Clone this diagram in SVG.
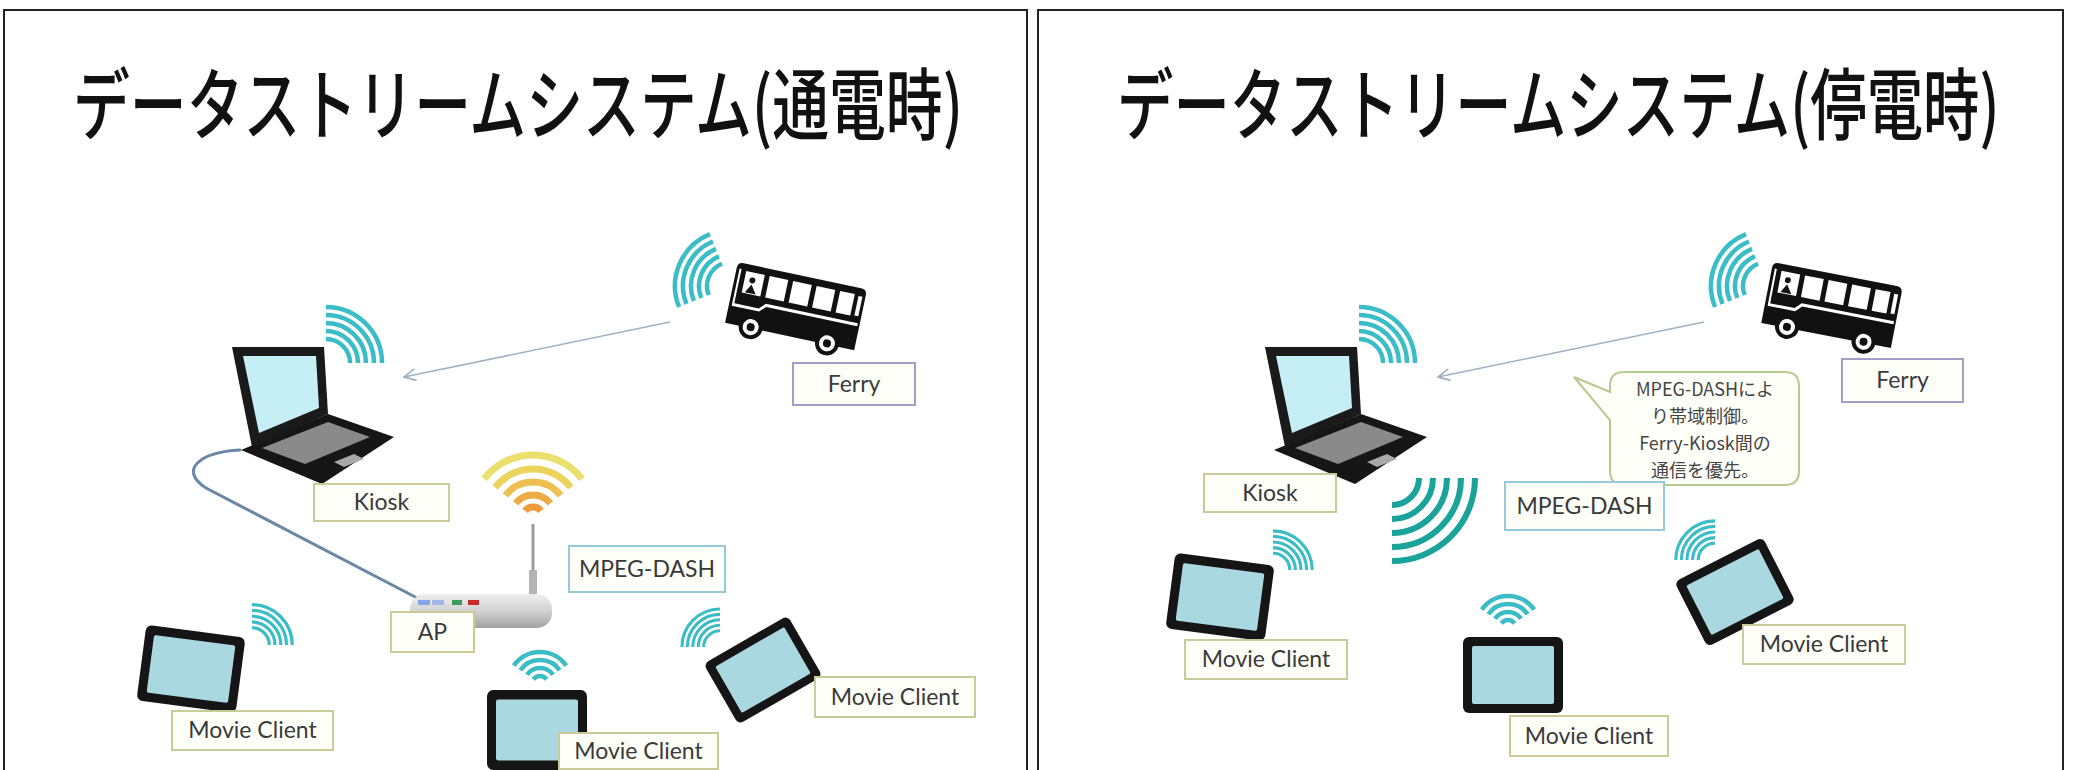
<svg xmlns="http://www.w3.org/2000/svg" xmlns:xlink="http://www.w3.org/1999/xlink" width="2097" height="770" viewBox="0 0 2097 770">
  <style>
    .panel { fill: #ffffff; stroke: #222222; stroke-width: 2; }
    .title { font-family: "Noto Sans CJK JP", "Noto Sans CJK SC", sans-serif; font-size: 78px; font-weight: 500; fill: #111111; }
    .box { fill: #fffffa; stroke: #c9cc99; stroke-width: 2; }
    .box-ferry { stroke: #a59dc4; }
    .box-dash { stroke: #98c9d8; }
    .lbl { font-family: Lato, "Open Sans", "Liberation Sans", sans-serif; font-size: 23px; fill: #3a3a3a; text-anchor: middle; }
    .note { font-family: "Noto Sans CJK JP", "Noto Sans CJK SC", sans-serif; font-size: 18px; fill: #454545; text-anchor: middle; }
    .wifi path { fill: none; stroke: #3bbdc7; stroke-width: 4.5; }
    .link { fill: none; stroke: #9fb2c4; stroke-width: 1.6; }
    .cable { fill: none; stroke: #6b86a6; stroke-width: 3; stroke-linecap: round; }
  </style>
  <defs>
    <marker id="arrowOpen" viewBox="0 0 12 12" refX="11" refY="6" markerWidth="14" markerHeight="14" markerUnits="userSpaceOnUse" orient="auto">
      <path d="M1,1 L11,6 L1,11" fill="none" stroke="#9fb2c4" stroke-width="1.5"/>
    </marker>
    <linearGradient id="routerBody" x1="0" y1="0" x2="0" y2="1">
      <stop offset="0" stop-color="#efefef"/>
      <stop offset="0.5" stop-color="#d2d2d2"/>
      <stop offset="1" stop-color="#a2a2a2"/>
    </linearGradient>
    <!-- quarter-circle radio waves, centre at origin, from up to right -->
    <g id="waveQuarter" class="wifi">
      <path d="M0,-24 A24,24 0 0 1 24,0"/>
      <path d="M0,-32 A32,32 0 0 1 32,0"/>
      <path d="M0,-40 A40,40 0 0 1 40,0"/>
      <path d="M0,-48 A48,48 0 0 1 48,0"/>
      <path d="M0,-56 A56,56 0 0 1 56,0"/>
    </g>
    <!-- upward fan of radio waves -->
    <g id="waveFan" class="wifi">
      <path d="M-6.55,-4.59 A8,8 0 0 1 6.55,-4.59"/>
      <path d="M-13.1,-9.18 A16,16 0 0 1 13.1,-9.18"/>
      <path d="M-19.66,-13.77 A24,24 0 0 1 19.66,-13.77"/>
      <path d="M-26.2,-18.35 A32,32 0 0 1 26.2,-18.35"/>
    </g>
    <!-- tablet: black frame with light blue screen, centred on origin -->
    <g id="tablet">
      <rect x="-50" y="-38" width="100" height="76" rx="6" fill="#151515"/>
      <rect x="-41" y="-29" width="82" height="58" rx="2" fill="#a9d8e0"/>
    </g>
    <!-- laptop, origin at top-left of lid -->
    <g id="laptop">
      <polygon points="9,103 96,67 162,90 90,137" fill="#161616"/>
      <polygon points="30,101 96,75 138,90 73,117" fill="#8a8a8a"/>
      <polygon points="102,115 122,107 132,112 112,120" fill="#a8a8a8"/>
      <polygon points="0,0 92,0 96,67 20,100" fill="#1a1a1a"/>
      <polygon points="11,9 84,9 87,61 27,86" fill="#c6eef5"/>
    </g>
    <!-- bus icon, 132 x 72, front on the left -->
    <g id="bus">
      <path d="M6,0 H126 Q132,0 132,6 V62 H0 V6 Q0,0 6,0 Z" fill="#111111"/>
      <rect x="3" y="6" width="2" height="36" fill="#ffffff"/>
      <rect x="10" y="7" width="19" height="22" fill="#ffffff"/>
      <circle cx="18" cy="15" r="3" fill="#111111"/>
      <path d="M13,28 L18,19 L24,28 Z" fill="#111111"/>
      <rect x="34" y="7" width="19" height="22" fill="#ffffff"/>
      <rect x="58" y="7" width="19" height="22" fill="#ffffff"/>
      <rect x="82" y="7" width="19" height="22" fill="#ffffff"/>
      <rect x="106" y="7" width="15" height="22" fill="#ffffff"/>
      <rect x="125" y="8" width="4" height="20" fill="#ffffff"/>
      <path d="M3,41 H30 L36,35 H130 V38 H37 L31,44 H3 Z" fill="#ffffff"/>
      <circle cx="26" cy="61" r="12" fill="#111111"/>
      <circle cx="26" cy="61" r="8" fill="#ffffff"/>
      <circle cx="26" cy="61" r="4" fill="#111111"/>
      <circle cx="104" cy="61" r="12" fill="#111111"/>
      <circle cx="104" cy="61" r="8" fill="#ffffff"/>
      <circle cx="104" cy="61" r="4" fill="#111111"/>
    </g>
  </defs>

  <rect width="2097" height="770" fill="#ffffff"/>

  <!-- ===================== powered ===================== -->
  <g id="panel-powered">
    <rect class="panel" x="4" y="10" width="1023" height="780"/>
    <text class="title" transform="translate(73,134) scale(0.729,1)" x="0" y="0">データストリームシステム(通電時)</text>

    <g id="powered-connectors">
      <path class="cable" d="M240,450 C200,452 178,470 206,488 L421,600"/>
      <line class="link" x1="670" y1="322" x2="404" y2="377" marker-end="url(#arrowOpen)"/>
    </g>

    <g id="powered-ferry">
      <use href="#waveQuarter" transform="translate(731,286) rotate(-112)"/>
      <use href="#bus" transform="translate(795,311) rotate(12) translate(-66,-36)"/>
      <rect class="box box-ferry" x="793" y="363" width="122" height="42"/>
      <text class="lbl" x="854" y="392">Ferry</text>
    </g>

    <g id="powered-kiosk">
      <use href="#waveQuarter" transform="translate(326,363)"/>
      <use href="#laptop" transform="translate(232,347)"/>
      <rect class="box" x="314" y="484" width="135" height="37"/>
      <text class="lbl" x="381.5" y="510">Kiosk</text>
    </g>

    <g id="powered-ap">
      <g fill="none" stroke-width="7">
        <path d="M484.14,478.8 A62,62 0 0 1 581.86,478.8" stroke="#ebe06e"/>
        <path d="M495.18,487.43 A48,48 0 0 1 570.82,487.43" stroke="#ebd35e"/>
        <path d="M505.42,495.44 A35,35 0 0 1 560.58,495.44" stroke="#edc151"/>
        <path d="M515.66,503.45 A22,22 0 0 1 550.34,503.45" stroke="#eeac45"/>
        <path d="M525.12,510.84 A10,10 0 0 1 540.88,510.84" stroke="#ee9c3b"/>
      </g>
      <line x1="533" y1="524" x2="533" y2="596" stroke="#9c9c9c" stroke-width="3"/>
      <rect x="529" y="570" width="8" height="26" fill="#b4b4b4"/>
      <rect x="410" y="594" width="142" height="34" rx="15" fill="url(#routerBody)"/>
      <rect x="418" y="600" width="12" height="5" fill="#8aa6e8"/>
      <rect x="432" y="600" width="12" height="5" fill="#a3b6ea"/>
      <rect x="452" y="600" width="10" height="5" fill="#3c9a5a"/>
      <rect x="468" y="600" width="11" height="5" fill="#cc2b2b"/>
      <rect class="box" x="391" y="612" width="83" height="40"/>
      <text class="lbl" x="432.5" y="640">AP</text>
    </g>

    <g id="powered-dash">
      <rect class="box box-dash" x="569" y="546" width="156" height="46"/>
      <text class="lbl" x="647" y="577">MPEG-DASH</text>
    </g>

    <g id="powered-client-1">
      <use href="#waveQuarter" transform="translate(252,645) scale(0.72)"/>
      <use href="#tablet" transform="translate(191,669) rotate(7.5)"/>
      <rect class="box" x="172" y="711" width="161" height="39"/>
      <text class="lbl" x="252.5" y="738">Movie Client</text>
    </g>

    <g id="powered-client-2">
      <use href="#waveFan" transform="translate(540,684)"/>
      <use href="#tablet" transform="translate(537,730) scale(1,1.05)"/>
      <rect class="box" x="559" y="733" width="159" height="36"/>
      <text class="lbl" x="638.5" y="759">Movie Client</text>
    </g>

    <g id="powered-client-3">
      <use href="#waveQuarter" transform="translate(720,647) rotate(-90) scale(0.68)"/>
      <use href="#tablet" transform="translate(763,670) rotate(-30) scale(0.97,0.92)"/>
      <rect class="box" x="815" y="677" width="160" height="40"/>
      <text class="lbl" x="895" y="705">Movie Client</text>
    </g>
  </g>

  <!-- ===================== power outage ===================== -->
  <g id="panel-outage">
    <rect class="panel" x="1038" y="10" width="1025" height="780"/>
    <text class="title" transform="translate(1117,134) scale(0.723,1)" x="0" y="0">データストリームシステム(停電時)</text>

    <g id="outage-connectors">
      <line class="link" x1="1704" y1="322" x2="1438" y2="377" marker-end="url(#arrowOpen)"/>
    </g>

    <g id="outage-ferry">
      <use href="#waveQuarter" transform="translate(1767,286) rotate(-112)"/>
      <use href="#bus" transform="translate(1831,310) rotate(11) translate(-66,-36)"/>
      <rect class="box box-ferry" x="1842" y="359" width="121" height="43"/>
      <text class="lbl" x="1902.5" y="388">Ferry</text>
    </g>

    <g id="outage-kiosk">
      <use href="#waveQuarter" transform="translate(1359,363)"/>
      <use href="#laptop" transform="translate(1265,347)"/>
      <rect class="box" x="1204" y="474" width="132" height="38"/>
      <text class="lbl" x="1270" y="501">Kiosk</text>
      <g fill="none" stroke="#1aa39a" stroke-width="6">
        <path d="M1419,478 A27,27 0 0 1 1392,505"/>
        <path d="M1433,478 A41,41 0 0 1 1392,519"/>
        <path d="M1447,478 A55,55 0 0 1 1392,533"/>
        <path d="M1461,478 A69,69 0 0 1 1392,547"/>
        <path d="M1475,478 A83,83 0 0 1 1392,561"/>
      </g>
    </g>

    <g id="outage-note">
      <path d="M1624,372 H1785 Q1799,372 1799,386 V471 Q1799,485 1785,485 H1624 Q1610,485 1610,471 V420 L1574,377 L1610,392 V386 Q1610,372 1624,372 Z" fill="#fffffa" stroke="#b9c98e" stroke-width="2"/>
      <text class="note" x="1705" y="396">MPEG-DASHによ</text>
      <text class="note" x="1705" y="423">り帯域制御。</text>
      <text class="note" x="1705" y="450">Ferry-Kiosk間の</text>
      <text class="note" x="1705" y="477">通信を優先。</text>
    </g>

    <g id="outage-dash">
      <rect class="box box-dash" x="1505" y="482" width="159" height="48"/>
      <text class="lbl" x="1584.5" y="514">MPEG-DASH</text>
    </g>

    <g id="outage-client-1">
      <use href="#waveQuarter" transform="translate(1273,570) scale(0.7)"/>
      <use href="#tablet" transform="translate(1220,597) rotate(7.5)"/>
      <rect class="box" x="1185" y="640" width="162" height="39"/>
      <text class="lbl" x="1266" y="667">Movie Client</text>
    </g>

    <g id="outage-client-2">
      <use href="#waveFan" transform="translate(1508,628)"/>
      <use href="#tablet" transform="translate(1513,675)"/>
      <rect class="box" x="1510" y="716" width="158" height="40"/>
      <text class="lbl" x="1589" y="744">Movie Client</text>
    </g>

    <g id="outage-client-3">
      <use href="#waveQuarter" transform="translate(1715,560) rotate(-90) scale(0.7)"/>
      <use href="#tablet" transform="translate(1735,592) rotate(-27) scale(0.99,0.96)"/>
      <rect class="box" x="1743" y="625" width="162" height="39"/>
      <text class="lbl" x="1824" y="652">Movie Client</text>
    </g>
  </g>
</svg>
